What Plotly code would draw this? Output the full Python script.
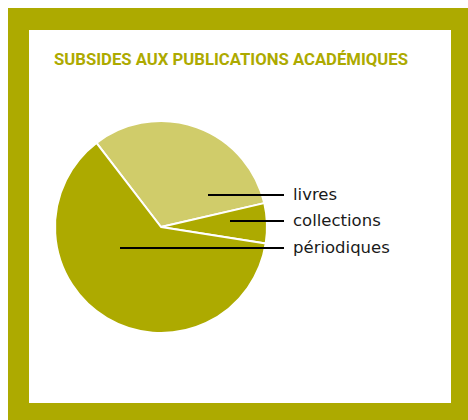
import plotly.graph_objects as go

# Shares of the academic-publication subsidies (percent)
categories = ["livres", "collections", "périodiques"]
shares = [31.8, 6.1, 62.1]
slice_colors = ["#D0CC6A", "#ADAA00", "#ADAA00"]

W, H = 468, 420
OLIVE = "#ADAA00"


def px(x):
    return x / W


def py(y):
    return 1 - y / H


# pie geometry (pixels from top-left)
cx, cy, r = 161, 227, 106

fig = go.Figure(
    go.Pie(
        labels=categories,
        values=shares,
        sort=False,
        direction="clockwise",
        rotation=-37.5,
        marker=dict(colors=slice_colors, line=dict(color="white", width=2)),
        textinfo="none",
        hoverinfo="label+percent",
        showlegend=False,
        domain=dict(x=[px(cx - r), px(cx + r)], y=[py(cy + r), py(cy - r)]),
    )
)

shapes = [
    # olive frame
    dict(type="rect", xref="paper", yref="paper", x0=px(8), x1=px(468), y0=py(420), y1=py(8),
         fillcolor=OLIVE, line=dict(width=0), layer="below"),
    # white panel
    dict(type="rect", xref="paper", yref="paper", x0=px(29), x1=px(451), y0=py(403), y1=py(30),
         fillcolor="white", line=dict(width=0), layer="below"),
]

# leader lines and labels: (label, line start x, line y)
label_rows = [("livres", 208, 195), ("collections", 230, 221), ("périodiques", 120, 248)]
annotations = []
for text, x0, y in label_rows:
    shapes.append(dict(type="line", xref="paper", yref="paper", x0=px(x0), x1=px(284),
                       y0=py(y), y1=py(y), line=dict(color="black", width=2), layer="above"))
    annotations.append(dict(text=text, x=px(291), y=py(y - 1), xref="paper", yref="paper",
                            xanchor="left", yanchor="middle", showarrow=False,
                            font=dict(family="DejaVu Sans", size=16.5, color="#1a1a1a")))

annotations.append(dict(text="<b>SUBSIDES AUX PUBLICATIONS ACADÉMIQUES</b>",
                        x=px(52), y=py(60), xref="paper", yref="paper",
                        xanchor="left", yanchor="middle", showarrow=False,
                        font=dict(family="Roboto", size=16.7, color=OLIVE)))

fig.update_layout(
    width=W, height=H,
    margin=dict(l=0, r=0, t=0, b=0),
    paper_bgcolor="white",
    shapes=shapes,
    annotations=annotations,
)

fig.write_html("out.html")
